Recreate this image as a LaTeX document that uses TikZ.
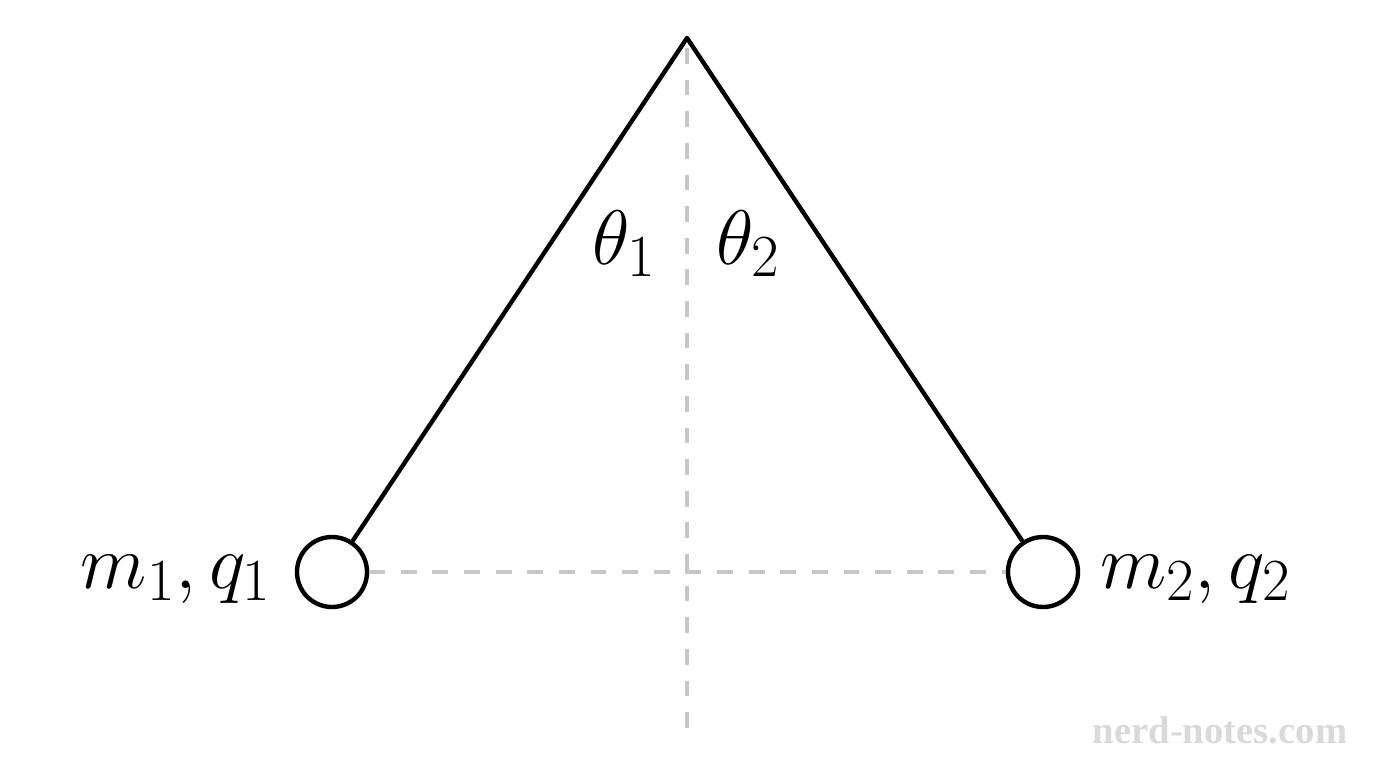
\RequirePackage{fix-cm}
\documentclass[tikz,border=0pt]{standalone}
\usepackage{fontspec}
\usetikzlibrary{positioning}
\newfontfamily\wmfont{Liberation Serif}
\DeclareMathSizes{44}{44}{34}{25}
\begin{document}
\begin{tikzpicture}[line join=round, line cap=butt,font=\fontsize{44}{48}\selectfont,x=0.02cm,y=-0.02cm]
		\useasboundingbox (0,0) rectangle (1376,768);
		\coordinate (top) at (687,38);
		\coordinate (bot) at (687,735);
		\node[circle,draw,line width=2.5pt,minimum size=70*0.02cm,inner sep=0pt] (ball1) at (332,572) {};
		\node[circle,draw,line width=2.5pt,minimum size=70*0.02cm,inner sep=0pt] (ball2) at (1043,572) {};
		\draw[gray!45,line width=1.8pt,dash pattern=on 9pt off 9pt] (top)++(0,10)--(bot) (ball1.east)--(ball2.west);
		\draw[line width=2.5pt] (ball1)--(top)--(ball2);
		\node (th1) at (624,244) {$\theta_1$};
		\node (th2) at (748,244) {$\theta_2$};
		\node[left=10pt of ball1,yshift=-4pt] (lab1) {$m_1, q_1$};
		\node[right=8pt of ball2,yshift=-4pt] (lab2) {$m_2, q_2$};
		\node[text=gray!30,font=\wmfont\bfseries\fontsize{22}{26}\selectfont] (wm) at (1220,730) {nerd-notes.com};
		\end{tikzpicture}
\end{document}
